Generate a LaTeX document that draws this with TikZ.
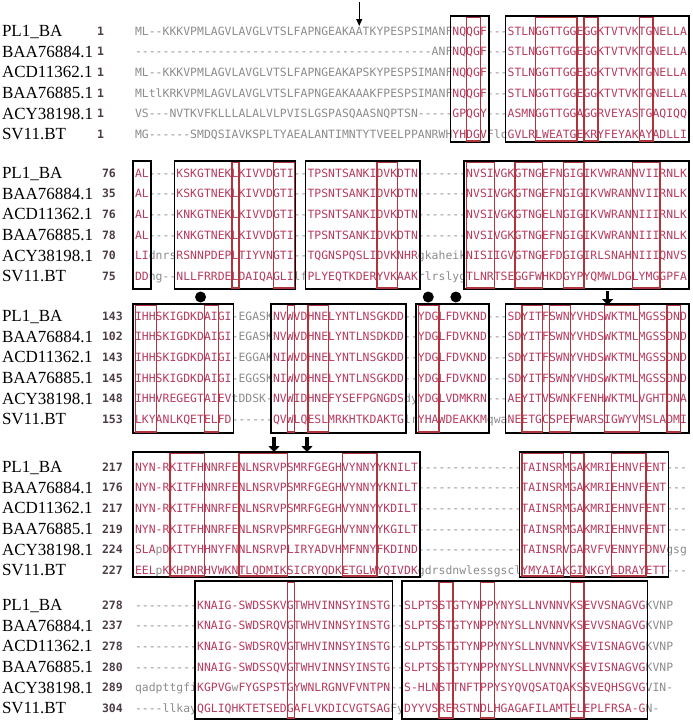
\documentclass[tikz,border=0pt]{standalone}
\usepackage{fontspec}
\setmainfont{Liberation Serif}
\newfontfamily\seqfont{DejaVu Sans Mono}
\usetikzlibrary{arrows.meta}
\definecolor{seqred}{HTML}{B83B5E}
\definecolor{seqgray}{HTML}{8C8C8C}
\definecolor{boxred}{HTML}{B0343C}
\definecolor{numcol}{HTML}{4D3D47}

\newdimen\cw \cw=6.9pt
\newcount\colidx
\newif\ifinbox
\def\rng#1#2{\ifnum\colidx<#1 \else\ifnum\colidx>#2 \else\inboxtrue\fi\fi}
\def\curranges{}
\def\seqchar#1{\inboxfalse\curranges
  \hbox to\cw{\hss\ifinbox\ifnum`#1<97 \color{seqred}\else\color{seqgray}\fi\else\color{seqgray}\fi #1\hss}}
\def\seqloop#1{\ifx#1\relax\else\advance\colidx by 1 \seqchar{#1}\expandafter\seqloop\fi}
\newcommand\seqrow[1]{\colidx=0 \seqloop#1\relax}

\tikzset{
  namenode/.style={font=\fontsize{17}{18}\selectfont, anchor=base west, inner sep=0pt, outer sep=0pt},
  numnode/.style={font=\seqfont\bfseries\fontsize{11.5}{12}\selectfont, text=numcol, anchor=base west, inner sep=0pt, outer sep=0pt},
  seqnode/.style={font=\seqfont\fontsize{11.4}{12}\selectfont, anchor=base west, inner sep=0pt, outer sep=0pt},
  blkbox/.style={draw=black, line width=1.5pt},
  redbox/.style={draw=boxred, line width=1.4pt},
  thinarrow/.style={line width=1pt, -{Triangle[length=7pt,width=6pt]}},
  fatarrow/.style={line width=3.5pt, -{Triangle[length=6pt,width=11pt]}},
  dotmark/.style={fill=black}
}

% column geometry: column c spans [X0+(c-1)W, X0+cW]
\def\XO{135}
\def\WW{6.9}
\def\RS{20.6}

\newcommand\seqline[5]{%
  \pgfmathsetmacro\yc{\bfirst+(#2-1)*\RS}%
  \node[namenode] (n#1#2) at (2,\yc+5.6) {#3};
  \node[numnode] (k#1#2) at (\numx,\yc+4.2) {#4};
  \node[seqnode] (s#1#2) at (\XO,\yc+4.2) {\seqrow{#5}};
}
\newcommand\bbox[2]{\draw[blkbox] ({\XO+(#1-1)*\WW-2},\btop) rectangle ({\XO+#2*\WW+2},\bbot);}
\newcommand\rbox[2]{\draw[redbox] ({\XO+(#1-1)*\WW+0.5},\btop+1.2) rectangle ({\XO+#2*\WW+0.5},\bbot-1.2);}
\newcommand\setblock[3]{%
  \def\bfirst{#1}\def\btop{#2}\def\bbot{#3}%
}
\newcommand\colc[1]{\XO+(#1-0.5)*\WW}

\begin{document}
\begin{tikzpicture}[x=1pt,y=-1pt]
\useasboundingbox (0,0) rectangle (693,720);
\fill[white] (0,0) rectangle (693,720);

% ---------------- Block 1
\setblock{31}{16}{142}
\def\numx{97}
\def\curranges{\rng{47}{51}\rng{55}{80}}
\seqline{a}{1}{PL1\_BA}{1}{ML--KKKVPMLAGVLAVGLVTSLFAPNGEAKAATKYPESPSIMANFNQQGF---STLNGGTTGGEGGKTVTVKTGNELLA}
\seqline{a}{2}{BAA76884.1}{1}{-------------------------------------------ANFNQQGF---STLNGGTTGGEGGKTVTVKTGNELLA}
\seqline{a}{3}{ACD11362.1}{1}{ML--KKKVPMLAGVLAVGLVTSLFAPNGEAKAPSKYPESPSIMANFNQQGF---STLNGGTTGGEGGKTVTVKTGNELLA}
\seqline{a}{4}{BAA76885.1}{1}{MLtlKRKVPMLAGVLAVGLVTSLFAPNGEAKAAAKFPESPSIMANFNQQGF---STLNGGTTGGEGGKTVTVKTGNELLA}
\seqline{a}{5}{ACY38198.1}{1}{VS---NVTKVFKLLLALALVLPVISLGSPASQAASNQPTSN-----GPQGY---ASMNGGTTGGAGGRVEYASTGAQIQQ}
\seqline{a}{6}{SV11.BT}{1}{MG------SMDQSIAVKSPLTYAEALANTIMNTYTVEELPPANRWHYHDGVFlcGVLRLWEATGEKRYFEYAKAYADLLI}
\bbox{47}{51}\bbox{55}{80}
\rbox{49}{50}\rbox{59}{64}\rbox{66}{67}\rbox{74}{75}
\coordinate (arA1) at ({\colc{33}},2);
\coordinate (arA2) at ({\colc{33}},26);
\draw[thinarrow] (arA1) -- (arA2);

% ---------------- Block 2
\setblock{173}{161}{289}
\def\numx{102}
\def\curranges{\rng{1}{2}\rng{7}{23}\rng{26}{41}\rng{49}{80}}
\seqline{b}{1}{PL1\_BA}{76}{AL----KSKGTNEKLKIVVDGTI--TPSNTSANKIDVKDTN-------NVSIVGKGTNGEFNGIGIKVWRANNVIIRNLK}
\seqline{b}{2}{BAA76884.1}{35}{AL----KSKGTNEKLKIVVDGTI--TPSNTSANKIDVKDTN-------NVSIVGKGTNGEFNGIGIKVWRANNVIIRNLK}
\seqline{b}{3}{ACD11362.1}{76}{AL----KNKGTNEKLKIVVDGTI--TPSNTSANKIDVKDTN-------NVSIVGKGTNGELNGIGIKVWRANNIIIRNLK}
\seqline{b}{4}{BAA76885.1}{78}{AL----KNKGTNEKLKIVVDGTI--TPSNTSANKIDVKDTN-------NVSIVGKGTNGEFNGIGIKVWRANNIIIRNLK}
\seqline{b}{5}{ACY38198.1}{70}{LIdnrsRSNNPDEPLTIYVNGTI--TQGNSPQSLIDVKNHRgkaheikNISIIGVGTNGEFDGIGIRLSNAHNIIIQNVS}
\seqline{b}{6}{SV11.BT}{75}{DDng--NLLFRRDELDAIQAGLIlfPLYEQTKDERYVKAAKrlrslygTLNRTSEGGFWHKDGYPYQMWLDGLYMGGPFA}
\bbox{1}{2}\bbox{7}{23}\bbox{26}{41}\bbox{49}{80}
\rbox{15}{15}\rbox{21}{23}\rbox{36}{38}\rbox{49}{52}\rbox{56}{59}\rbox{63}{65}\rbox{73}{76}

% ---------------- Block 3
\setblock{316}{304}{433}
\def\curranges{\rng{1}{14}\rng{21}{39}\rng{42}{51}\rng{55}{80}}
\seqline{c}{1}{PL1\_BA}{143}{IHHSKIGDKDAIGI-EGASKNVWVDHNELYNTLNSGKDD--YDGLFDVKND---SDYITFSWNYVHDSWKTMLMGSSDND}
\seqline{c}{2}{BAA76884.1}{102}{IHHSKIGDKDAIGI-EGASKNVWVDHNELYNTLNSDKDD--YDGLFDVKND---SDYITFSWNYVHDSWKTMLMGSSDND}
\seqline{c}{3}{ACD11362.1}{143}{IHHSKIGDKDAIGI-EGGAKNIWVDHNELYNTLNSGKDD--YDGLFDVKND---SDYITFSWNYVHDSWKTMLMGSSDND}
\seqline{c}{4}{BAA76885.1}{145}{IHHSKIGDKDAIGI-EGGSKNIWVDHNELYNTLNSGKDD--YDGLFDVKND---SDYITFSWNYVHDSWKTMLMGSSDND}
\seqline{c}{5}{ACY38198.1}{148}{IHHVREGEGTAIEVtDDSK-NVWIDHNEFYSEFPGNGDSdyYDGLVDMKRN---AEYITVSWNKFENHWKTMLVGHTDNA}
\seqline{c}{6}{SV11.BT}{153}{LKYANLKQETELFD------QVWLQESLMRKHTKDAKTGlrYHAWDEAKKMqwaNEETGCSPEFWARSIGWYVMSLADMI}
\bbox{1}{14}\bbox{21}{39}\bbox{42}{51}\bbox{55}{80}
\rbox{1}{3}\rbox{11}{12}\rbox{23}{23}\rbox{26}{28}\rbox{42}{44}\rbox{57}{59}\rbox{61}{63}\rbox{69}{73}\rbox{78}{79}
\fill[dotmark] ({\colc{10}},297) circle (5.5pt);
\fill[dotmark] ({\colc{43}},297) circle (5.5pt);
\fill[dotmark] ({\colc{47}},297) circle (5.5pt);
\coordinate (arB1) at ({\colc{69}},291);
\coordinate (arB2) at ({\colc{69}},305);
\draw[fatarrow] (arB1) -- (arB2);

% ---------------- Block 4
\setblock{467}{452}{577}
\def\curranges{\rng{1}{41}\rng{57}{77}}
\seqline{d}{1}{PL1\_BA}{217}{NYN-RKITFHNNRFENLNSRVPSMRFGEGHVYNNYYKNILT---------------TAINSRMGAKMRIEHNVFENT---}
\seqline{d}{2}{BAA76884.1}{176}{NYN-RKITFHNNRFENLNSRVPSMRFGEGHVYNNYYKNILT---------------TAINSRMGAKMRIEHNVFENT---}
\seqline{d}{3}{ACD11362.1}{217}{NYN-RKITFHNNRFENLNSRVPSMRFGEGHVYNNYYKDILT---------------TAINSRMGAKMRIEHNVFENT---}
\seqline{d}{4}{BAA76885.1}{219}{NYN-RKITFHNNRFENLNSRVPSMRFGEGHVYNNYYKGILT---------------TAINSRMGAKMRIEHNVFENT---}
\seqline{d}{5}{ACY38198.1}{224}{SLApDKITYHHNYFNNLNSRVPLIRYADVHMFNNYFKDIND---------------TAINSRVGARVFVENNYFDNVgsg}
\seqline{d}{6}{SV11.BT}{227}{EELpKKHPNRHVWKNTLQDMIKSICRYQDKETGLWYQIVDKgdrsdnwlessgsclYMYAIAKGINKGYLDRAYETT---}
\bbox{1}{41}\bbox{57}{77}
\rbox{6}{10}\rbox{16}{22}\rbox{31}{35}\rbox{57}{62}\rbox{64}{65}\rbox{70}{74}
\coordinate (arC1) at (274,437);
\coordinate (arC2) at (274,452);
\draw[fatarrow] (arC1) -- (arC2);
\coordinate (arD1) at (307,437);
\coordinate (arD2) at (307,452);
\draw[fatarrow] (arD1) -- (arD2);

% ---------------- Block 5
\setblock{605}{581}{719}
\def\curranges{\rng{10}{37}\rng{40}{74}}
\seqline{e}{1}{PL1\_BA}{278}{---------KNAIG-SWDSSKVGTWHVINNSYINSTG--SLPTSSTGTYNPPYNYSLLNVNNVKSEVVSNAGVGKVNP}
\seqline{e}{2}{BAA76884.1}{237}{---------KNAIG-SWDSRQVGTWHVINNSYINSTG--SLPTSSTGTYNPPYNYSLLNVNNVKSEVVSNAGVGKVNP}
\seqline{e}{3}{ACD11362.1}{278}{---------KNAIG-SWDSRQVGTWHVINNSYINSTG--SLPTSSTGTYNPPYNYSLLNVNNVKSEVISNAGVGKVNP}
\seqline{e}{4}{BAA76885.1}{280}{---------NNAIG-SWDSSQVGTWHVINNSYINSTG--SLPTSSTGTYNPPYNYSLLNVNNVKSEVISNAGVGKVNP}
\seqline{e}{5}{ACY38198.1}{289}{qadpttgfiKGPVGwFYGSPSTGYWNLRGNVFVNTPN--S-HLNSTTNFTPPYSYQVQSATQAKSSVEQHSGVGVIN-}
\seqline{e}{6}{SV11.BT}{304}{----llkayQGLIQHKTETSEDGAFLVKDICVGTSAGFyDYYVSRERSTNDLHGAGAFILAMTELEPLFRSA-GN-}
\bbox{10}{37}\bbox{40}{74}
\rbox{23}{23}\rbox{45}{46}\rbox{51}{52}\rbox{64}{65}
\end{tikzpicture}
\end{document}
